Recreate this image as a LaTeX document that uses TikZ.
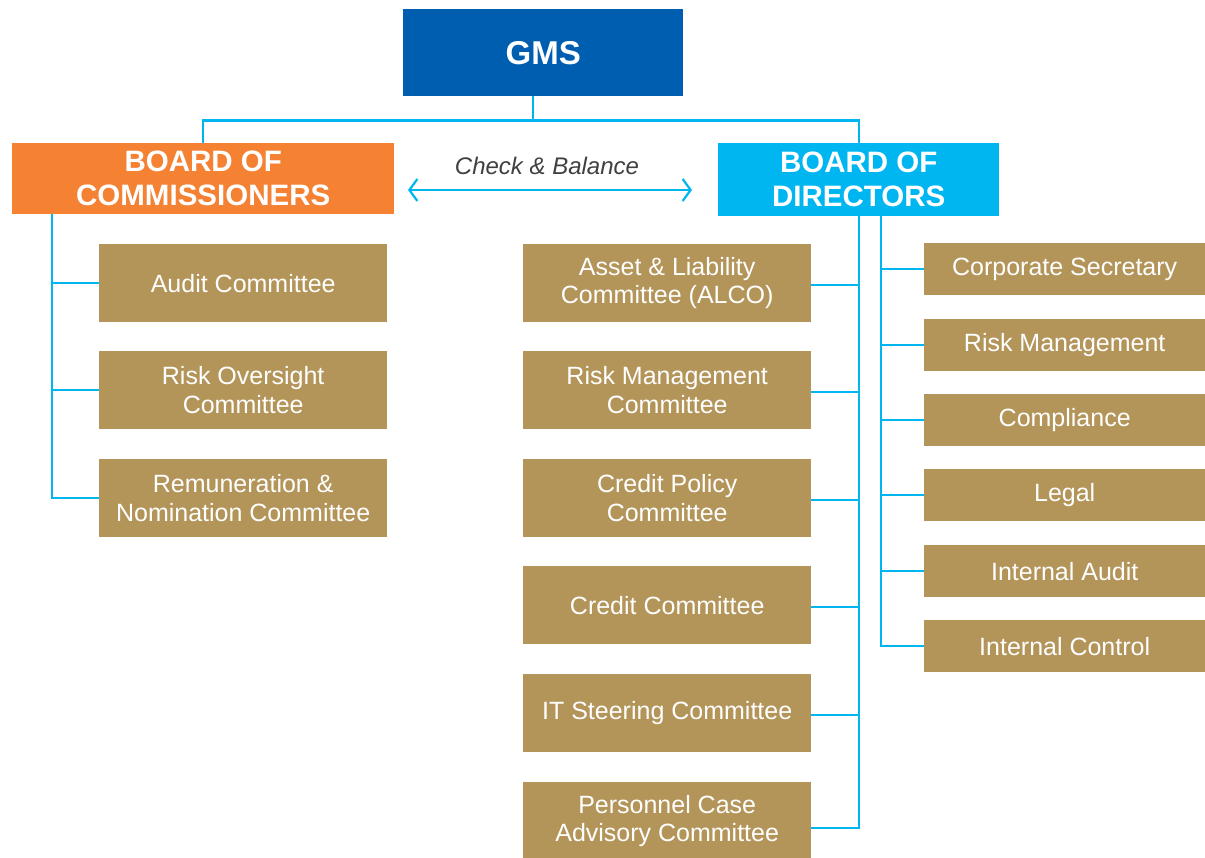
\documentclass[tikz,border=0pt]{standalone}
\usepackage{fontspec}
\setmainfont{Liberation Sans}
\usetikzlibrary{arrows.meta,calc}
\definecolor{gmsblue}{HTML}{005EB0}
\definecolor{bocorange}{HTML}{F58233}
\definecolor{bodcyan}{HTML}{00B6F0}
\definecolor{goldbox}{HTML}{B3955A}
\definecolor{linecyan}{HTML}{00B6F0}
\definecolor{txtgray}{HTML}{404040}
\begin{document}
\begin{tikzpicture}[x=1pt,y=-1pt,
  box/.style={fill=goldbox, text=white, inner sep=0pt, align=center, anchor=north west, font=\fontsize{25}{28.5}\selectfont},
  midbox/.style={box, minimum width=288pt, minimum height=78pt},
  rbox/.style={box, minimum width=281pt, minimum height=52pt},
  head/.style={text=white, inner sep=0pt, align=center, anchor=north west, font=\fontsize{29.5}{34}\bfseries\selectfont},
  conn/.style={draw=linecyan, line width=2.2pt},
  barb/.style={conn, {Straight Barb[length=8pt,width=22pt]}-{Straight Barb[length=8pt,width=22pt]}}]
\useasboundingbox (0,0) rectangle (1205,857);
\fill[white] (0,0) rectangle (1205,857);
% top level
\node[head, fill=gmsblue, minimum width=280pt, minimum height=87pt, font=\fontsize{33}{38}\bfseries\selectfont] (gms) at (403,9) {GMS};
\node[head, fill=bocorange, minimum width=382pt, minimum height=71pt] (boc) at (12,143) {BOARD OF\\COMMISSIONERS};
\node[head, fill=bodcyan, minimum width=281pt, minimum height=73pt] (bod) at (718,143) {BOARD OF\\DIRECTORS};
\node[text=txtgray, font=\fontsize{24}{28}\itshape\selectfont] (cb) at (547,166) {Check \& Balance};
\coordinate (cbL) at (408,190);
\coordinate (cbR) at (692,190);
% commissioner committees
\node[midbox] (audit) at (99,244) {Audit Committee};
\node[midbox] (rov) at (99,351) {Risk Oversight\\Committee};
\node[midbox] (rem) at (99,459) {Remuneration \&\\Nomination Committee};
% director committees
\node[midbox] (alco) at (523,244) {Asset \& Liability\\Committee (ALCO)};
\node[midbox] (rmc) at (523,351) {Risk Management\\Committee};
\node[midbox] (cpc) at (523,459) {Credit Policy\\Committee};
\node[midbox] (cc) at (523,566) {Credit Committee};
\node[midbox] (itsc) at (523,674) {IT Steering Committee};
\node[midbox] (pca) at (523,782) {Personnel Case\\Advisory Committee};
% director units
\node[rbox] (cs) at (924,243) {Corporate Secretary};
\node[rbox] (rm) at (924,319) {Risk Management};
\node[rbox] (comp) at (924,394) {Compliance};
\node[rbox] (legal) at (924,469) {Legal};
\node[rbox] (ia) at (924,545) {Internal Audit};
\node[rbox] (ic) at (924,620) {Internal Control};
% connectors
\coordinate (gmsout) at ([xshift=-10pt]gms.south);
\coordinate (bar) at ($(gmsout)+(0,24)$);
\draw[conn] (gmsout) -- (bar);
\draw[conn] (boc.north) |- (bar) -| (bod.north);
\draw[barb] (cbL) -- (cbR);
% left trunk
\coordinate (lt) at ([xshift=40pt]boc.south west);
\draw[conn] (lt) |- (rem.west);
\foreach \n in {audit,rov} \draw[conn] (\n.west) -- (\n.west -| lt);
% middle trunk
\draw[conn] (bod.south) |- ([yshift=-7pt]pca.east);
\foreach \n in {alco,rmc,cpc,cc,itsc} \draw[conn] ([yshift=-2pt]\n.east) -- ([yshift=-2pt]\n.east -| bod.south);
% right trunk
\coordinate (rt) at ([xshift=22pt]bod.south);
\draw[conn] (rt) |- (ic.west);
\foreach \n in {cs,rm,comp,legal,ia} \draw[conn] (\n.west) -- (\n.west -| rt);
\end{tikzpicture}
\end{document}
